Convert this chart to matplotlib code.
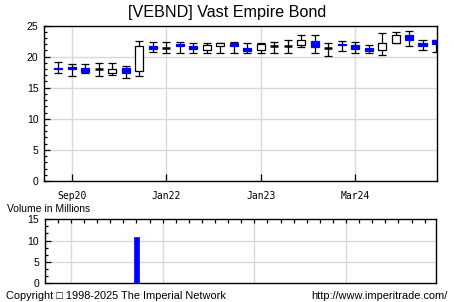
import numpy as np
import matplotlib
matplotlib.use("Agg")
import matplotlib.pyplot as plt
from matplotlib.ticker import MultipleLocator

# candle data (one candle per period)
highs = [19.2, 18.8, 18.8, 18.95, 18.95, 18.5, 22.5, 22.4, 22.3, 22.4, 22.2, 22.2, 22.2, 22.4,
         22.2, 22.2, 22.3, 22.7, 23.4, 23.4, 22.2, 22.5, 22.35, 21.8, 23.8, 23.9, 24.1, 22.6, 22.6]
lows = [17.4, 16.95, 17.3, 16.95, 17.1, 16.5, 16.95, 20.8, 20.57, 20.57, 20.57, 20.57, 20.57, 20.57,
        20.57, 20.57, 20.57, 20.57, 21.5, 20.57, 20.1, 20.9, 20.57, 20.57, 20.2, 22.25, 21.65, 21.0, 20.7]
opens = [18.13, 18.3, 18.13, 17.97, 17.43, 18.2, 17.7, 21.75, 21.33, 22.0, 21.65, 21.1, 21.65, 22.15,
         21.33, 21.1, 21.7, 21.75, 21.9, 22.55, 21.4, 22.1, 21.8, 21.4, 21.0, 22.25, 23.5, 22.25, 22.6]
closes = [17.97, 18.0, 17.6, 17.97, 17.97, 17.37, 21.65, 21.2, 21.33, 21.75, 21.15, 21.9, 22.15, 21.65,
          20.9, 21.98, 21.7, 21.75, 22.7, 21.5, 21.4, 21.8, 21.3, 20.9, 22.25, 23.4, 22.7, 21.75, 21.97]
volumes = [0, 0, 0, 0, 0, 0, 10.8, 0, 0, 0, 0, 0, 0, 0, 0, 0, 0, 0, 0, 0, 0, 0, 0, 0, 0, 0, 0, 0, 0]

date_pos = [1, 8, 15, 22]
date_labels = ["Sep20", "Jan22", "Jan23", "Mar24"]

W, H = 454, 302
fig = plt.figure(figsize=(W / 100, H / 100), dpi=100)
fig.patch.set_facecolor("white")

grid_c = "#d8d8d8"
blue = "#0000ff"
lw = 0.9

def px_axes(left, top, right, bottom):
    return fig.add_axes([left / W, 1 - bottom / H, (right - left) / W, (bottom - top) / H])

# main price panel
ax = px_axes(44, 25.5, 436.7, 181)
x = np.arange(len(highs))
ax.set_xlim(-1.06, 28.05)
ax.set_ylim(0, 25)
ax.yaxis.set_major_locator(MultipleLocator(5))
ax.yaxis.set_minor_locator(MultipleLocator(1))
ax.set_xticks(date_pos)
ax.set_xticklabels(date_labels, family="DejaVu Sans Mono", fontsize=7)
ax.tick_params(axis="x", direction="in", length=5, width=lw, pad=7.5)
ax.tick_params(axis="y", which="major", direction="in", length=4, width=lw, pad=4, labelsize=7.5)
ax.tick_params(axis="y", which="minor", direction="in", length=2.5, width=lw)
for t in ax.get_yticklabels():
    t.set_family("Liberation Sans")
ax.grid(True, color=grid_c, linewidth=1)
ax.set_axisbelow(True)
for s in ax.spines.values():
    s.set_linewidth(1)

w = 0.6
ax.vlines(x, lows, highs, color="black", linewidth=lw, zorder=3)
ax.hlines(highs, x - w / 2, x + w / 2, color="black", linewidth=lw, zorder=3)
ax.hlines(lows, x - w / 2, x + w / 2, color="black", linewidth=lw, zorder=3)
for i in x:
    o, c = opens[i], closes[i]
    if abs(o - c) < 1e-6:
        ax.hlines(o, i - w / 2, i + w / 2, color="black", linewidth=1.8, zorder=4)
    elif c < o:
        ax.bar(i, o - c, bottom=c, width=w, color=blue, edgecolor=blue, linewidth=lw, zorder=4)
    else:
        ax.bar(i, c - o, bottom=o, width=w, color="white", edgecolor="black", linewidth=lw, zorder=4)

fig.text(0.5, 1 - 12 / H, "[VEBND] Vast Empire Bond", ha="center", va="center",
         fontsize=11.6, family="Liberation Sans")

# volume panel
av = px_axes(44.7, 219.3, 436, 283)
av.set_xlim(-1, 28.87)
av.set_ylim(0, 15)
av.yaxis.set_major_locator(MultipleLocator(5))
av.yaxis.set_minor_locator(MultipleLocator(5 / 3))
av.xaxis.set_ticks_position("top")
av.set_xticks(np.arange(29))
av.tick_params(axis="x", direction="in", length=3, width=lw, labeltop=False, labelbottom=False)
av.tick_params(axis="y", which="major", direction="in", length=4, width=lw, pad=4, labelsize=7.5)
av.tick_params(axis="y", which="minor", direction="in", length=2.5, width=lw)
for t in av.get_yticklabels():
    t.set_family("Liberation Sans")
for p in date_pos:
    av.axvline(p, color=grid_c, linewidth=1, zorder=0)
for v in (5, 10):
    av.axhline(v, color=grid_c, linewidth=1, zorder=0)
for s in av.spines.values():
    s.set_linewidth(1)
av.bar(x, volumes, width=0.42, color=blue, edgecolor=blue, linewidth=0.5, zorder=3)

fig.text(7 / W, 1 - 209 / H, "Volume in Millions", ha="left", va="center",
         fontsize=7.5, family="Liberation Sans")
fig.text(6 / W, 1 - 296 / H, "Copyright \u25a1 1998-2025 The Imperial Network", ha="left", va="center",
         fontsize=7.9, family=["Liberation Sans", "DejaVu Sans"])
fig.text(448 / W, 1 - 296 / H, "http://www.imperitrade.com/", ha="right", va="center",
         fontsize=7.9, family="Liberation Sans")

fig.savefig("out.png", dpi=100)
